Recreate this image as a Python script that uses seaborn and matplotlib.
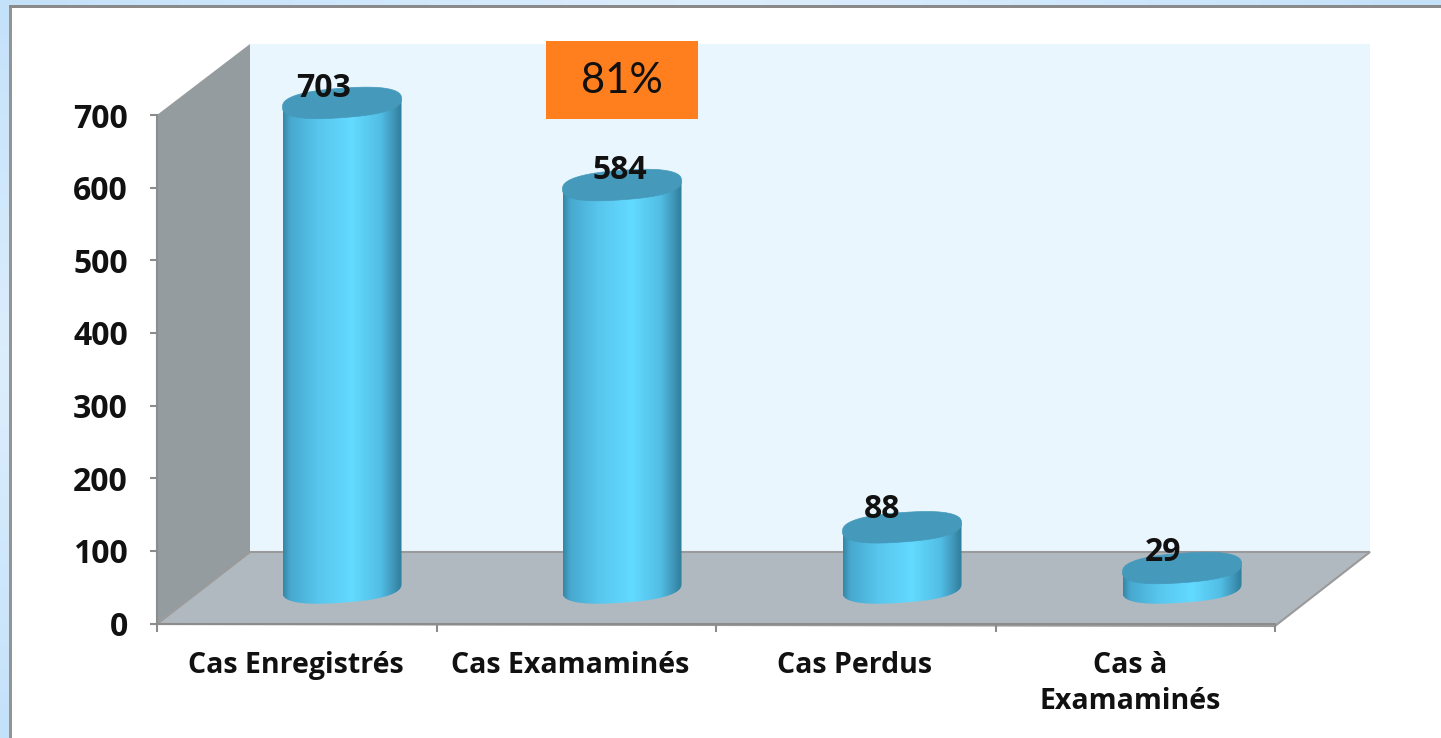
import numpy as np
import pandas as pd
import matplotlib
import matplotlib.pyplot as plt
import seaborn as sns
from matplotlib.colors import LinearSegmentedColormap
from matplotlib.patches import Polygon, Rectangle
from matplotlib.transforms import ScaledTranslation

matplotlib.use("Agg")

categories = ["Cas Enregistrés", "Cas Examaminés", "Cas Perdus", "Cas à\nExamaminés"]
values = [703, 584, 88, 29]
y_ticks = [0, 100, 200, 300, 400, 500, 600, 700]
callout = "81%"

W, H = 1441, 738

sns.set_theme(style="white")
plt.rcParams["font.family"] = ["Open Sans", "DejaVu Sans"]


def px_axes(fig, left, right, top, bottom):
    return fig.add_axes([left / W, 1 - bottom / H, (right - left) / W, (bottom - top) / H])


def blob(t, p=0.8):
    # slightly squared ellipse, the cylinder ends in the reference are blunt
    c, s = np.cos(t), np.sin(t)
    return np.sign(c) * np.abs(c) ** p, np.sign(s) * np.abs(s) ** p


fig = plt.figure(figsize=(W / 100, H / 100), dpi=100, facecolor="white")

# frame and 3D box, in pixel coordinates
bg = fig.add_axes([0, 0, 1, 1], zorder=0)
strip = LinearSegmentedColormap.from_list("strip", ["#C4E1FA", "#DCEEFD", "#C4E1FA"])
bg.imshow(np.linspace(0, 1, 64).reshape(-1, 1), cmap=strip, extent=(0, 10, H, 0), aspect="auto")
bg.imshow(np.linspace(0, 1, 64).reshape(1, -1), cmap=strip, extent=(0, W, 6, 0), aspect="auto")
bg.set_xlim(0, W)
bg.set_ylim(H, 0)
bg.axis("off")
bg.add_patch(Rectangle((9, 5), 2.5, H, color="#949494", lw=0))
bg.add_patch(Rectangle((9, 5), W, 2.5, color="#8A8A8A", lw=0))
bg.add_patch(Rectangle((250, 44), 1120, 508, color="#E9F6FE", lw=0))
bg.add_patch(Polygon([(157, 115), (250, 44), (250, 552), (157, 623)], color="#949C9F", lw=0))
bg.add_patch(Polygon([(157, 624), (250, 552), (1370, 552), (1275, 626)],
                     facecolor="#B1B9C0", edgecolor="#9A9A9A", lw=1.5))

# axis ticks and labels on the front plane
ax = px_axes(fig, 157, 1275, 115, 623.5)
ax.set_zorder(1)
ax.patch.set_alpha(0)
ax.set_xlim(-0.5, 3.5)
ax.set_ylim(0, 700)
ax.set_yticks(y_ticks)
ax.set_xticks(range(len(categories)))
ax.set_xticklabels(categories, fontsize=20.5, fontweight="bold", color="#111111", linespacing=1.3)
ax.set_xticks(np.arange(-0.5, 4, 1), minor=True)
ax.tick_params(axis="x", which="major", length=0, pad=20)
ax.tick_params(axis="x", which="minor", length=6, width=1.5, color="#8C8C8C", bottom=True)
ax.tick_params(axis="y", length=5, width=1.5, color="#8C8C8C", left=True, pad=16)
for lab in ax.get_yticklabels():
    lab.set_fontsize(23)
    lab.set_fontweight("bold")
    lab.set_color("#111111")
# labels in the reference are not quite centred on their slots
for lab, shift in zip(ax.get_xticklabels(), [-1, -6, -1, -5]):
    lab.set_transform(lab.get_transform() + ScaledTranslation(shift / 100, 0, fig.dpi_scale_trans))
sns.despine(ax=ax)
for side in ["left", "bottom"]:
    ax.spines[side].set_color("#8C8C8C")
    ax.spines[side].set_linewidth(1.5)

# cylinders sit half way into the box, on their own scale
K = 0.69
top_v, low_v = 800, -40
cyl = px_axes(fig, 202, 1322, 588 - top_v * K, 588 - low_v * K)
cyl.set_zorder(2)
cyl.patch.set_alpha(0)
df = pd.DataFrame({"category": categories, "value": values})
sns.barplot(data=df, x="category", y="value", color="#5CCFF8", width=0.425,
            saturation=1, ax=cyl)
cyl.set_xlim(-0.5, 3.5)
cyl.set_ylim(low_v, top_v)
cyl.axis("off")

shade = LinearSegmentedColormap.from_list(
    "cylinder",
    [(0, "#3587A6"), (0.06, "#47A8CE"), (0.3, "#58C6EE"), (0.58, "#63DAFF"),
     (0.82, "#52BEE5"), (0.93, "#3F97B9"), (1, "#2F7C98")])
grad = np.linspace(0, 1, 256).reshape(1, -1)
t = np.linspace(0, 2 * np.pi, 200)
t_front = np.linspace(np.pi, 2 * np.pi, 100)
b, tilt = 14.7 / K, 4.2 / K  # ellipse half height and tilt, in value units

label_dx = [-18, -2, -20, -19]
label_dy = [14, 15, 18, 15]

for bar, v, dx, dy in zip(cyl.patches, values, label_dx, label_dy):
    x0, w = bar.get_x(), bar.get_width()
    cx, a = x0 + w / 2, w / 2
    bar.set_visible(False)
    # body: top edge straight across, bottom follows the front of the base ellipse
    ux, uy = blob(t_front)
    body = np.vstack([np.column_stack([cx + a * ux, b * uy + tilt * ux]),
                      [[cx + a, v + tilt]], [[cx - a, v - tilt]]])
    im = cyl.imshow(grad, cmap=shade, extent=(x0, x0 + w, -b - tilt, v + tilt),
                    aspect="auto", zorder=2)
    clip = Polygon(body, transform=cyl.transData, facecolor="none", edgecolor="none")
    cyl.add_patch(clip)
    im.set_clip_path(clip)
    ux, uy = blob(t)
    top = np.column_stack([cx + a * ux, v + b * uy + tilt * ux])
    cyl.add_patch(Polygon(top, facecolor="#4599BB", edgecolor="#4599BB", lw=0.5, zorder=3))
    cyl.annotate(str(v), (cx, v), xytext=(dx * 0.72, dy * 0.72), textcoords="offset points",
                 ha="center", va="center", fontsize=23, fontweight="bold",
                 color="#111111", zorder=4)
cyl.set_xlim(-0.5, 3.5)
cyl.set_ylim(low_v, top_v)

# orange callout
top_ax = fig.add_axes([0, 0, 1, 1], zorder=3)
top_ax.set_xlim(0, W)
top_ax.set_ylim(H, 0)
top_ax.axis("off")
top_ax.add_patch(Rectangle((546, 41), 152, 78, color="#FF7F1F", lw=0))
top_ax.text(622, 81, callout, ha="center", va="center", fontsize=30, color="#111111",
            family=["Lato", "DejaVu Sans"])

plt.savefig("out.png", dpi=100)
plt.close()
